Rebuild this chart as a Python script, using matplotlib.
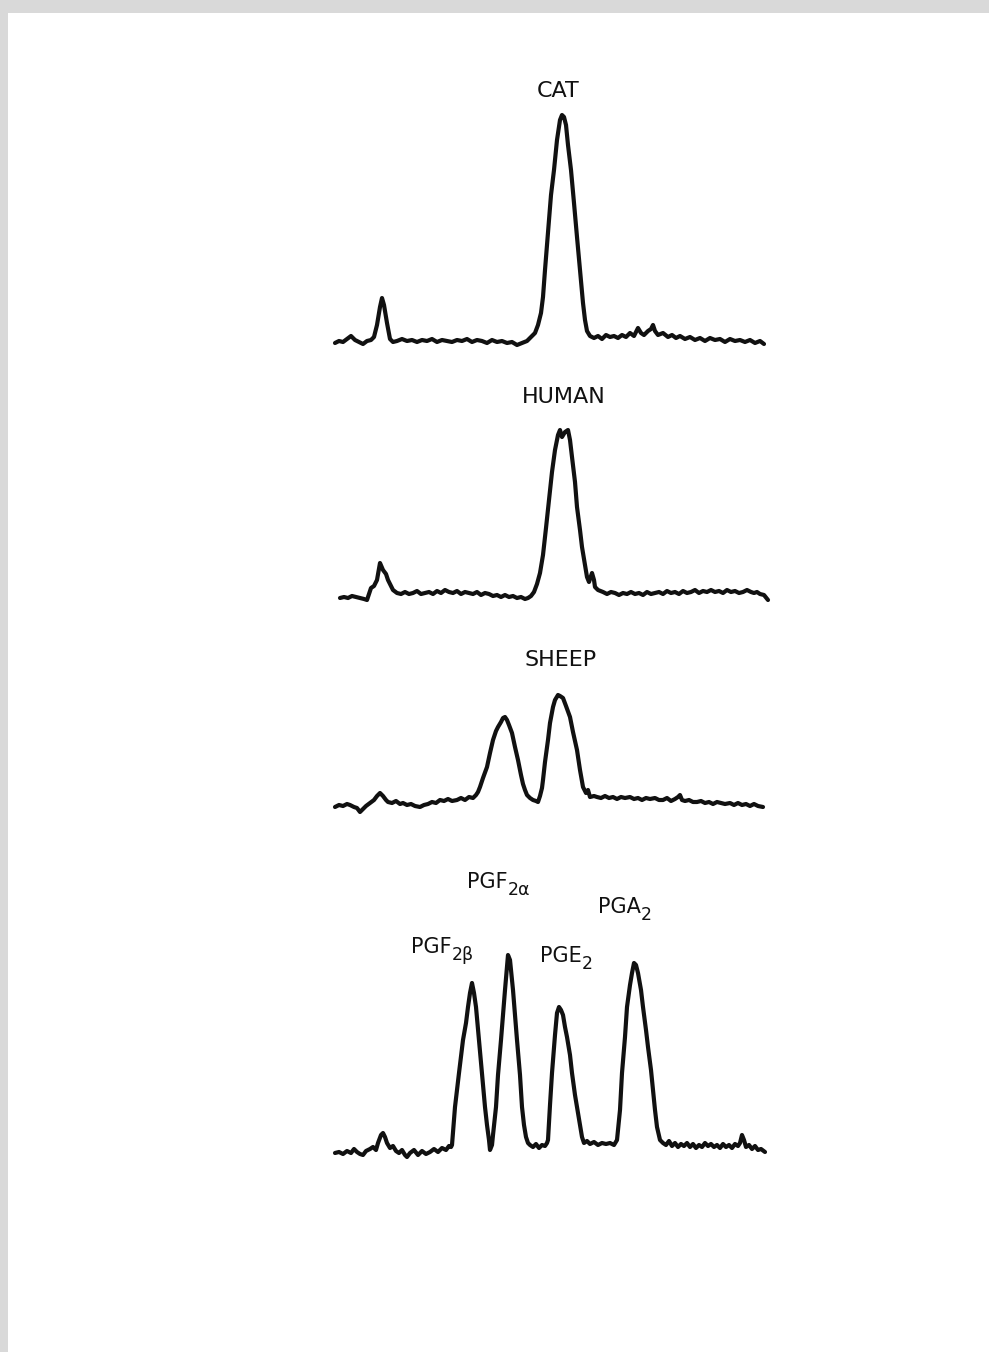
"""Densitometer traces of prostaglandin separations from cat, human and sheep tissue,
with the reference standards run on the bottom strip."""

import matplotlib
matplotlib.use("Agg")
import matplotlib.pyplot as plt
from matplotlib.patches import Rectangle

# (chart distance, pen deflection above baseline) for each strip, arbitrary units
cat_trace = [
    (5, 2), (9, 4), (13, 3), (17, 6), (21, 9), (25, 5), (29, 3), (33, 1), (37, 4),
    (41, 5), (44, 8), (47, 20), (50, 38), (52, 47), (54, 40), (57, 22), (60, 6),
    (63, 3), (67, 4), (72, 6), (77, 4), (82, 5), (87, 3), (92, 5), (97, 4), (102, 6),
    (107, 3), (112, 5), (117, 4), (122, 3), (127, 5), (132, 4), (137, 6), (142, 3),
    (147, 5), (152, 4), (157, 2), (162, 5), (167, 3), (172, 4), (177, 2), (182, 3),
    (187, 0), (192, 2), (197, 4), (201, 8), (205, 12), (208, 20), (211, 32), (213, 48),
    (215, 75), (217, 100), (219, 125), (221, 150), (224, 175), (227, 205), (230, 225),
    (232, 230), (234, 228), (236, 220), (238, 200), (241, 175), (244, 142), (247, 108),
    (250, 75), (253, 42), (255, 25), (257, 14), (260, 9), (264, 7), (268, 9), (272, 6),
    (276, 10), (280, 8), (284, 9), (288, 7), (292, 10), (296, 8), (300, 12), (304, 9),
    (308, 17), (311, 12), (314, 10), (318, 14), (321, 16), (323, 20), (325, 14),
    (328, 10), (333, 12), (338, 8), (342, 10), (346, 7), (350, 9), (355, 6), (360, 8),
    (365, 5), (370, 7), (375, 4), (380, 7), (385, 5), (390, 6), (395, 3), (400, 6),
    (405, 4), (410, 5), (415, 3), (420, 5), (425, 2), (430, 4), (434, 1),
]

human_trace = [
    (10, 2), (14, 3), (18, 2), (22, 4), (26, 3), (30, 2), (34, 1), (37, 0), (39, 6),
    (41, 12), (44, 14), (47, 20), (50, 37), (53, 30), (56, 26), (58, 20), (61, 14),
    (63, 10), (67, 7), (71, 6), (75, 8), (79, 6), (83, 7), (87, 9), (91, 6), (95, 7),
    (99, 8), (103, 6), (107, 9), (111, 7), (115, 10), (119, 8), (123, 7), (127, 9),
    (131, 6), (135, 8), (139, 7), (143, 6), (147, 8), (151, 5), (155, 7), (159, 6),
    (163, 4), (167, 5), (171, 3), (175, 5), (179, 3), (183, 4), (187, 2), (191, 3),
    (195, 1), (198, 2), (201, 4), (204, 8), (207, 16), (210, 27), (213, 45), (216, 72),
    (219, 100), (222, 128), (225, 150), (228, 165), (230, 170), (232, 163), (235, 168),
    (238, 170), (240, 160), (242, 143), (245, 118), (247, 93), (250, 70), (252, 53),
    (255, 35), (257, 23), (259, 18), (261, 24), (262, 27), (264, 20), (265, 13),
    (268, 10), (273, 8), (277, 6), (281, 8), (285, 7), (289, 5), (293, 7), (297, 6),
    (301, 8), (305, 6), (309, 7), (313, 5), (317, 8), (321, 6), (325, 7), (329, 8),
    (333, 6), (337, 9), (341, 7), (345, 8), (349, 6), (353, 9), (357, 7), (361, 8),
    (365, 10), (369, 7), (373, 9), (377, 8), (381, 10), (385, 8), (389, 9), (393, 7),
    (397, 10), (401, 8), (405, 9), (409, 7), (413, 8), (417, 10), (421, 8), (424, 7),
    (427, 8), (430, 6), (434, 5), (438, 0),
]

sheep_trace = [
    (5, 3), (9, 5), (13, 4), (17, 6), (20, 5), (24, 3), (27, 2), (30, -2), (33, 1),
    (36, 4), (40, 7), (44, 10), (47, 14), (50, 17), (53, 14), (56, 10), (58, 8),
    (62, 7), (66, 9), (70, 6), (73, 7), (77, 5), (81, 6), (85, 4), (90, 3), (94, 5),
    (98, 6), (102, 8), (106, 7), (110, 10), (114, 9), (118, 11), (122, 9), (127, 10),
    (131, 12), (135, 10), (139, 13), (143, 12), (146, 15), (148, 18), (150, 23),
    (153, 32), (157, 43), (160, 57), (163, 70), (166, 79), (168, 83), (171, 88),
    (173, 92), (175, 93), (177, 90), (179, 85), (182, 77), (185, 63), (188, 50),
    (191, 35), (193, 26), (195, 20), (197, 15), (200, 12), (203, 10), (206, 9),
    (208, 8), (210, 14), (212, 22), (213, 30), (215, 48), (218, 70), (220, 87),
    (223, 103), (225, 110), (228, 115), (230, 114), (233, 112), (236, 104), (240, 93),
    (243, 78), (247, 60), (250, 40), (253, 23), (256, 17), (258, 20), (260, 13),
    (264, 14), (267, 13), (271, 12), (275, 14), (279, 12), (283, 13), (287, 11),
    (291, 13), (295, 12), (300, 13), (304, 11), (308, 12), (312, 10), (316, 12),
    (320, 11), (325, 12), (329, 10), (333, 10), (337, 12), (341, 9), (345, 11),
    (348, 13), (350, 15), (352, 10), (355, 9), (359, 10), (363, 8), (367, 8), (371, 9),
    (375, 7), (379, 8), (383, 6), (387, 8), (391, 7), (395, 6), (400, 7), (404, 5),
    (408, 7), (412, 5), (416, 6), (420, 4), (424, 6), (428, 4), (433, 3),
]

standards_trace = [
    (5, 2), (9, 3), (13, 1), (17, 4), (21, 2), (24, 6), (27, 3), (30, 1), (33, 0),
    (36, 4), (40, 6), (43, 8), (46, 5), (48, 12), (51, 20), (53, 22), (55, 18),
    (57, 12), (60, 7), (63, 9), (66, 4), (69, 2), (72, 5), (75, 0), (77, -2), (80, 2),
    (84, 5), (88, 0), (92, 4), (96, 1), (100, 3), (104, 6), (108, 3), (112, 7),
    (116, 5), (119, 9), (121, 8), (122, 10), (125, 48), (129, 82), (133, 115),
    (136, 132), (138, 148), (140, 162), (142, 172), (144, 162), (146, 148), (149, 115),
    (152, 82), (155, 48), (157, 30), (159, 15), (160, 5), (162, 10), (163, 20),
    (166, 48), (168, 80), (171, 115), (173, 140), (175, 165), (177, 188), (178, 200),
    (180, 195), (181, 185), (183, 165), (185, 140), (187, 115), (190, 80), (192, 48),
    (194, 30), (196, 18), (198, 12), (200, 10), (203, 8), (206, 11), (209, 7),
    (212, 10), (215, 9), (217, 12), (218, 15), (220, 50), (222, 82), (225, 120),
    (227, 142), (229, 148), (231, 145), (233, 140), (235, 128), (237, 118), (240, 100),
    (242, 82), (245, 60), (247, 48), (250, 30), (252, 18), (254, 12), (257, 14),
    (260, 11), (264, 13), (268, 10), (272, 12), (276, 11), (280, 12), (284, 10),
    (287, 15), (290, 45), (292, 82), (295, 118), (297, 148), (300, 170), (302, 182),
    (304, 192), (306, 190), (308, 182), (311, 165), (313, 148), (316, 125), (318, 108),
    (321, 85), (323, 65), (325, 45), (327, 28), (330, 15), (333, 12), (336, 10),
    (339, 14), (342, 9), (345, 12), (348, 8), (351, 11), (354, 9), (357, 12), (360, 8),
    (363, 11), (366, 7), (369, 10), (372, 8), (375, 12), (378, 9), (381, 11), (384, 8),
    (387, 10), (390, 7), (393, 11), (396, 8), (399, 10), (402, 7), (405, 11), (408, 9),
    (410, 12), (412, 20), (414, 15), (416, 8), (419, 10), (422, 6), (425, 9), (428, 5),
    (431, 6), (435, 3),
]

species = ["CAT", "HUMAN", "SHEEP"]
species_label_x = [228, 234, 231]
species_label_y = [248, 197, 144]

# prostaglandin standards: stem and subscript drawn as separate text pieces
standard_stems = ["PGF", "PGF", "PGE", "PGA"]
standard_subs = ["2β", "2α", "2", "2"]
standard_label_x = [81, 137, 210, 268]
standard_label_y = [202, 267, 193, 242]

W, H = 989, 1352
INK = "#111111"
FONT = "DejaVu Sans"


def trace_axes(fig, baseline_row, left_px=330, width_px=450, below=20, above=280):
    """Axes with 1 data unit per pixel; y=0 sits on the given pixel row."""
    bottom_px = baseline_row + below
    ax = fig.add_axes([left_px / W, (H - bottom_px) / H,
                       width_px / W, (below + above) / H])
    ax.set_xlim(0, width_px)
    ax.set_ylim(-below, above)
    ax.axis("off")
    ax.patch.set_alpha(0)
    return ax


def draw_trace(ax, points):
    xs, ys = zip(*points)
    ax.plot(xs, ys, color=INK, lw=3.0, solid_joinstyle="round",
            solid_capstyle="round")


fig = plt.figure(figsize=(W / 100, H / 100), dpi=100, facecolor="#d9d9d9")
# white sheet inside the grey scan border
fig.patches.append(Rectangle((8 / W, 0), 1, (H - 13) / H,
                             transform=fig.transFigure, facecolor="white",
                             edgecolor="none", zorder=-10))

strips = [(345, cat_trace), (600, human_trace), (810, sheep_trace)]
for (row, points), name, lx, ly in zip(strips, species, species_label_x,
                                       species_label_y):
    ax = trace_axes(fig, row)
    draw_trace(ax, points)
    ax.text(lx, ly, name, color=INK, fontsize=16, family=FONT,
            ha="center", va="baseline")

ax = trace_axes(fig, 1155)
draw_trace(ax, standards_trace)
for stem, sub, lx, ly in zip(standard_stems, standard_subs, standard_label_x,
                             standard_label_y):
    t = ax.text(lx, ly, stem, color=INK, fontsize=15, family=FONT,
                ha="left", va="baseline")
    ax.annotate(sub, xy=(1, 0), xycoords=t, xytext=(0, -2),
                textcoords="offset points", color=INK, fontsize=12.5,
                family=FONT, ha="left", va="baseline")

fig.savefig("out.png", dpi=100, facecolor=fig.get_facecolor())
